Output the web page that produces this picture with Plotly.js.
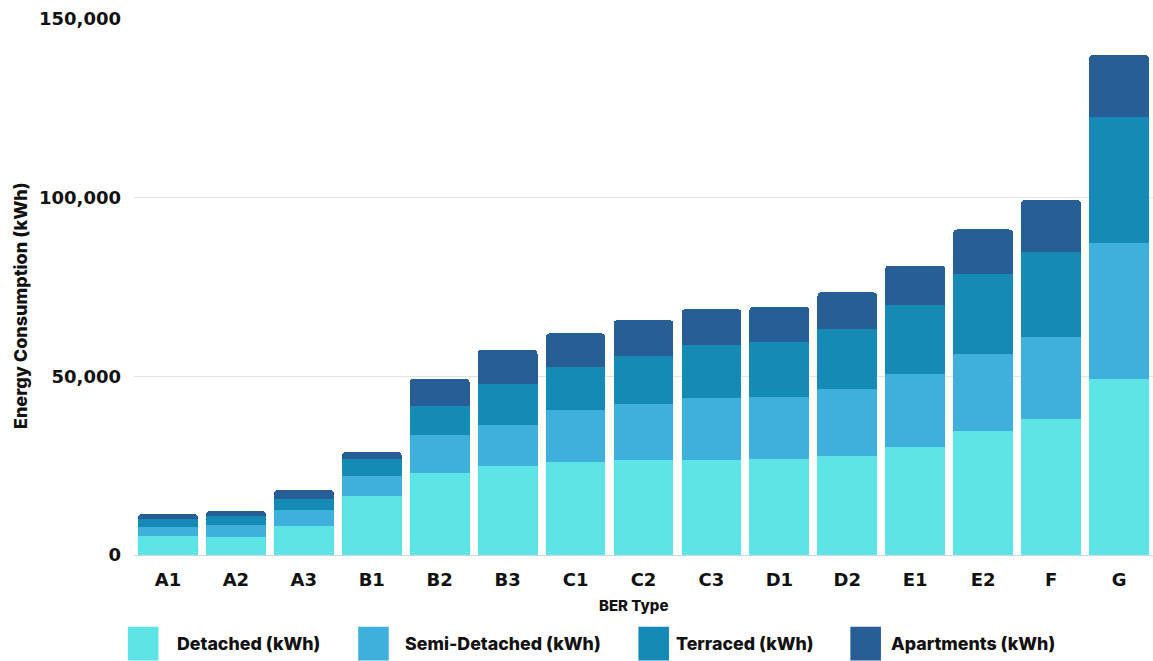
<!DOCTYPE html>
<html>
<head>
<meta charset="utf-8">
<script src="https://cdn.plot.ly/plotly-3.0.1.min.js"></script>
<style>
  html, body { margin: 0; padding: 0; background: #ffffff; }
  #chart { width: 1153px; height: 661px; }
</style>
</head>
<body>
<div id="chart"></div>
<script>
// ---- data ----
const categories = ['A1','A2','A3','B1','B2','B3','C1','C2','C3','D1','D2','E1','E2','F','G'];
const detached   = [5400, 5100, 8200, 16500, 23000, 24800, 25900, 26500, 26500, 26900, 27600, 30300, 34600, 38200, 49200];
const semiDetached = [2500, 3300, 4400, 5500, 10500, 11600, 14600, 15800, 17400, 17400, 18800, 20300, 21700, 22700, 38200];
const terraced   = [2200, 2500, 3000, 5000, 8300, 11400, 12200, 13400, 14900, 15400, 16800, 19400, 22200, 23900, 35200];
const apartments = [1300, 1400, 2600, 1800, 7500, 9600, 9300, 10000, 10000, 9800, 10300, 11000, 12600, 14600, 17300];
const seriesNames = ['Detached (kWh)', 'Semi-Detached (kWh)', 'Terraced (kWh)', 'Apartments (kWh)'];
const yTickVals = [0, 50000, 100000, 150000];
const xTitle = 'BER Type';
const yTitle = 'Energy Consumption (kWh)';

// ---- styles ----
const colors = ['#5ce4e6', '#3fb0dc', '#148ab5', '#265e95'];
const tickFont = 'DejaVu Sans, sans-serif';
const textFont = 'Inter, DejaVu Sans, sans-serif';

const seriesValues = [detached, semiDetached, terraced, apartments];
const traces = seriesValues.map((vals, i) => ({
  type: 'bar',
  name: seriesNames[i],
  x: categories,
  y: vals,
  marker: { color: colors[i], line: { width: 0 } },
  hoverinfo: 'x+y+name'
}));

// custom legend (tall swatches) in paper coordinates
const legendSwatchX = [-0.006, 0.220, 0.495, 0.703];
const legendTextX   = [0.040, 0.264, 0.530, 0.741];
const shapes = [];
const annotations = [];
seriesNames.forEach((n, i) => {
  shapes.push({
    type: 'rect', xref: 'paper', yref: 'paper',
    x0: legendSwatchX[i], x1: legendSwatchX[i] + 0.0300,
    y0: -0.134, y1: -0.197,
    fillcolor: colors[i], line: { width: 0 }, layer: 'above'
  });
  annotations.push({
    xref: 'paper', yref: 'paper', x: legendTextX[i], y: -0.165,
    xanchor: 'left', yanchor: 'middle', showarrow: false,
    text: n, font: { family: textFont, size: 17.8, color: '#111111', weight: 800 }
  });
});
// axis titles placed as in the reference
annotations.push({
  xref: 'paper', yref: 'paper', x: 0.49, y: -0.095,
  xanchor: 'center', yanchor: 'middle', showarrow: false,
  text: xTitle, font: { family: textFont, size: 15, color: '#111111', weight: 800 }
});
annotations.push({
  xref: 'paper', yref: 'paper', x: -0.112, y: 0.466,
  xanchor: 'center', yanchor: 'middle', showarrow: false, textangle: -90,
  text: yTitle, font: { family: textFont, size: 18, color: '#111111', weight: 800 }
});

const layout = {
  width: 1153, height: 661,
  margin: { l: 134, r: 0, t: 19, b: 106, pad: 0 },
  paper_bgcolor: '#ffffff', plot_bgcolor: '#ffffff',
  barmode: 'stack',
  bargap: 0.12,
  barcornerradius: 4,
  showlegend: false,
  xaxis: {
    type: 'category',
    showgrid: false, zeroline: false, showline: false,
    ticks: '', ticklabelstandoff: 12,
    tickfont: { family: tickFont, size: 18, color: '#111111', weight: 'bold' },
    automargin: false, fixedrange: true
  },
  yaxis: {
    range: [0, 150000],
    tickvals: yTickVals,
    tickformat: ',',
    showgrid: true, gridcolor: '#e3e3e3', gridwidth: 1,
    zeroline: true, zerolinecolor: '#cfd8dc', zerolinewidth: 1,
    showline: false, ticks: '', ticklabelstandoff: 12,
    tickfont: { family: tickFont, size: 18, color: '#111111', weight: 'bold' },
    automargin: false, fixedrange: true
  },
  shapes: shapes,
  annotations: annotations
};

Plotly.newPlot('chart', traces, layout, { displayModeBar: false, staticPlot: true });
</script>
</body>
</html>
